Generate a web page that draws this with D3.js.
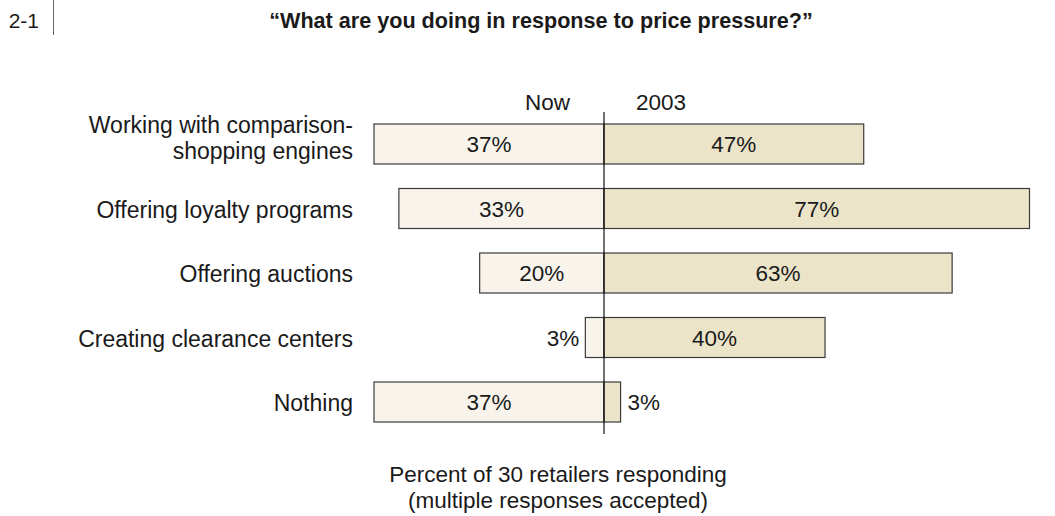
<!DOCTYPE html>
<html>
<head>
<meta charset="utf-8">
<script src="https://cdn.jsdelivr.net/npm/d3@7"></script>
<style>
  body { margin: 0; background: #fff; }
  text { font-family: "Liberation Sans", Arial, sans-serif; fill: #1a1a1a; }
</style>
</head>
<body>
<svg id="chart" width="1055" height="516"></svg>
<script>
// data
const categories = [
  ['Working with comparison-', 'shopping engines'],
  ['Offering loyalty programs'],
  ['Offering auctions'],
  ['Creating clearance centers'],
  ['Nothing']
]
const nowValues = [37, 33, 20, 3, 37]
const y2003Values = [47, 77, 63, 40, 3]
const seriesNames = ['Now', '2003']

const svg = d3.select('#chart')
const axisX = 604

// the two halves are not drawn to the same scale in the original
const xLeft = d3.scaleLinear().domain([0, 37]).range([axisX, 374])
const xRight = d3.scaleLinear().domain([0, 77]).range([axisX, 1029.5])

// 5 rows, step 64.5, bar height 40
const y = d3.scaleBand()
  .domain(d3.range(categories.length))
  .range([124, 422])
  .paddingInner(0.38)
  .paddingOuter(0)

// header
svg.append('text').attr('x', 39).attr('y', 28).attr('text-anchor', 'end')
  .style('font-size', '21px').text('2-1')
svg.append('line').attr('x1', 53.5).attr('x2', 53.5).attr('y1', 0).attr('y2', 35)
  .attr('stroke', '#666').attr('stroke-width', 1)
svg.append('text').attr('x', 541).attr('y', 28).attr('text-anchor', 'middle')
  .style('font-size', '21.6px').style('font-weight', 'bold')
  .text('\u201cWhat are you doing in response to price pressure?\u201d')

// series headers
svg.append('text').attr('x', 570).attr('y', 110).attr('text-anchor', 'end')
  .style('font-size', '22.5px').text(seriesNames[0])
svg.append('text').attr('x', 636).attr('y', 110).attr('text-anchor', 'start')
  .style('font-size', '22.5px').text(seriesNames[1])

const g = svg.append('g')

// left bars (Now)
g.selectAll('.now').data(nowValues).join('rect')
  .attr('class', 'now')
  .attr('x', d => xLeft(d))
  .attr('y', (d, i) => y(i))
  .attr('width', d => axisX - xLeft(d))
  .attr('height', y.bandwidth())
  .attr('fill', '#f8f4ec').attr('stroke', '#3a3a3a').attr('stroke-width', 1.2)

// right bars (2003)
g.selectAll('.y2003').data(y2003Values).join('rect')
  .attr('class', 'y2003')
  .attr('x', axisX)
  .attr('y', (d, i) => y(i))
  .attr('width', d => xRight(d) - axisX)
  .attr('height', y.bandwidth())
  .attr('fill', '#ebe4c9').attr('stroke', '#3a3a3a').attr('stroke-width', 1.2)

// centre line
svg.append('line').attr('x1', axisX).attr('x2', axisX).attr('y1', 112).attr('y2', 434)
  .attr('stroke', '#111').attr('stroke-width', 1.2)

// value labels, small bars get the label outside
const small = 24
g.selectAll('.nowLabel').data(nowValues).join('text')
  .attr('x', d => (axisX - xLeft(d) < small) ? xLeft(d) - 6 : (xLeft(d) + axisX) / 2)
  .attr('y', (d, i) => y(i) + y.bandwidth() / 2)
  .attr('dy', '0.36em')
  .attr('text-anchor', d => (axisX - xLeft(d) < small) ? 'end' : 'middle')
  .style('font-size', '22.5px')
  .text(d => d + '%')

g.selectAll('.y2003Label').data(y2003Values).join('text')
  .attr('x', d => (xRight(d) - axisX < small) ? xRight(d) + 7 : (xRight(d) + axisX) / 2)
  .attr('y', (d, i) => y(i) + y.bandwidth() / 2)
  .attr('dy', '0.36em')
  .attr('text-anchor', d => (xRight(d) - axisX < small) ? 'start' : 'middle')
  .style('font-size', '22.5px')
  .text(d => d + '%')

// category labels
categories.forEach((lines, i) => {
  const cy = y(i) + y.bandwidth() / 2
  const lh = 26
  const shift = lines.length > 1 ? -6 : 1
  const t = svg.append('text').attr('text-anchor', 'end').style('font-size', '23px')
  lines.forEach((s, k) => {
    t.append('tspan').attr('x', 353)
      .attr('y', cy + shift + (k - (lines.length - 1) / 2) * lh)
      .attr('dy', '0.36em').text(s)
  })
})

// footnote
svg.append('text').attr('x', 558).attr('y', 482).attr('text-anchor', 'middle')
  .style('font-size', '22.5px').text('Percent of 30 retailers responding')
svg.append('text').attr('x', 558).attr('y', 507.5).attr('text-anchor', 'middle')
  .style('font-size', '22.5px').text('(multiple responses accepted)')
</script>
</body>
</html>
